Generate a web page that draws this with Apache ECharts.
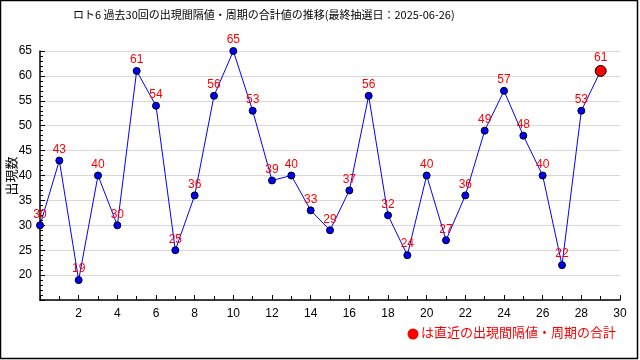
<!DOCTYPE html>
<html><head><meta charset="utf-8">
<script src="https://cdn.jsdelivr.net/npm/echarts@6/dist/echarts.min.js"></script>
<style>html,body{margin:0;padding:0;background:#fff}#c{width:640px;height:360px}</style>
</head><body><div id="c"></div>
<script>
const titleText = 'ロト6 過去30回の出現間隔値・周期の合計値の推移(最終抽選日：2025-06-26)';
const yName = '出現数';
const legendText = 'は直近の出現間隔値・周期の合計';
const draws = [0,1,2,3,4,5,6,7,8,9,10,11,12,13,14,15,16,17,18,19,20,21,22,23,24,25,26,27,28,29];
const values = [30,43,19,40,30,61,54,25,36,56,65,53,39,40,33,29,37,56,32,24,40,27,36,49,57,48,40,22,53,61];

const font = 'Liberation Sans, Arial, sans-serif';
const cjk = '"Noto Sans CJK JP", sans-serif';
const last = draws.length - 1;
const data = draws.map((d, i) => {
  const p = { value: [d, values[i]] };
  if (i === last) {
    p.symbolSize = 11;
    p.itemStyle = { color: '#ff0000', borderColor: '#000', borderWidth: 1 };
  }
  return p;
});

const chart = echarts.init(document.getElementById('c'), null, { renderer: 'canvas' });
chart.setOption({
  animation: false,
  backgroundColor: '#fff',
  title: {
    text: titleText, left: 68, top: 4,
    textStyle: { fontFamily: cjk, fontSize: 11, fontWeight: 'normal', color: '#000' }
  },
  grid: { left: 40, right: 20, top: 51, bottom: 60, containLabel: false, outerBoundsMode: 'none' },
  xAxis: {
    type: 'value', min: 0, max: 30, interval: 2,
    axisLine: { show: true, onZero: false, lineStyle: { color: '#000', width: 1.5 } },
    axisTick: { show: true, inside: true, length: 5, lineStyle: { color: '#000' } },
    minorTick: { show: true, splitNumber: 2, length: 4, lineStyle: { color: '#000' } },
    splitLine: { show: false },
    axisLabel: {
      color: '#000', fontFamily: font, fontSize: 12, margin: 8,
      formatter: v => (v === 0 ? '' : String(v))
    }
  },
  yAxis: {
    type: 'value', min: 15, max: 65, interval: 5,
    axisLine: { show: true, onZero: false, lineStyle: { color: '#000', width: 1.5 } },
    axisTick: { show: true, inside: true, length: 5, lineStyle: { color: '#000' } },
    minorTick: { show: true, splitNumber: 5, length: 3, lineStyle: { color: '#000' } },
    splitLine: { show: true, lineStyle: { color: '#d8d8d8', width: 1 } },
    axisLabel: {
      color: '#000', fontFamily: font, fontSize: 12, margin: 8,
      formatter: v => (v === 15 ? '' : String(v))
    }
  },
  series: [{
    type: 'line',
    data: data,
    symbol: 'circle',
    symbolSize: 7,
    lineStyle: { color: '#0000ff', width: 1 },
    itemStyle: { color: '#0000ff', borderColor: '#000', borderWidth: 1 },
    label: {
      show: true, position: 'top', distance: 1,
      color: '#ff0000', fontFamily: font, fontSize: 12,
      formatter: p => String(p.value[1])
    },
    labelLayout: { hideOverlap: false },
    z: 3
  }],
  graphic: [
    { type: 'rect', shape: { x: 0.5, y: 0.5, width: 637, height: 358 },
      style: { fill: 'none', stroke: '#000', lineWidth: 1.5 }, silent: true, z: 10 },
    { type: 'text', x: 11, y: 176, rotation: Math.PI / 2,
      style: { text: yName, fill: '#000', fontFamily: cjk, fontSize: 13,
               align: 'center', verticalAlign: 'middle' }, z: 10 },
    { type: 'circle', shape: { cx: 413, cy: 334, r: 5.5 },
      style: { fill: '#ff0000' }, z: 10 },
    { type: 'text', left: 421, top: 326,
      style: { text: legendText, fill: '#ff0000', fontFamily: cjk, fontSize: 13 }, z: 10 }
  ]
});
</script></body></html>
